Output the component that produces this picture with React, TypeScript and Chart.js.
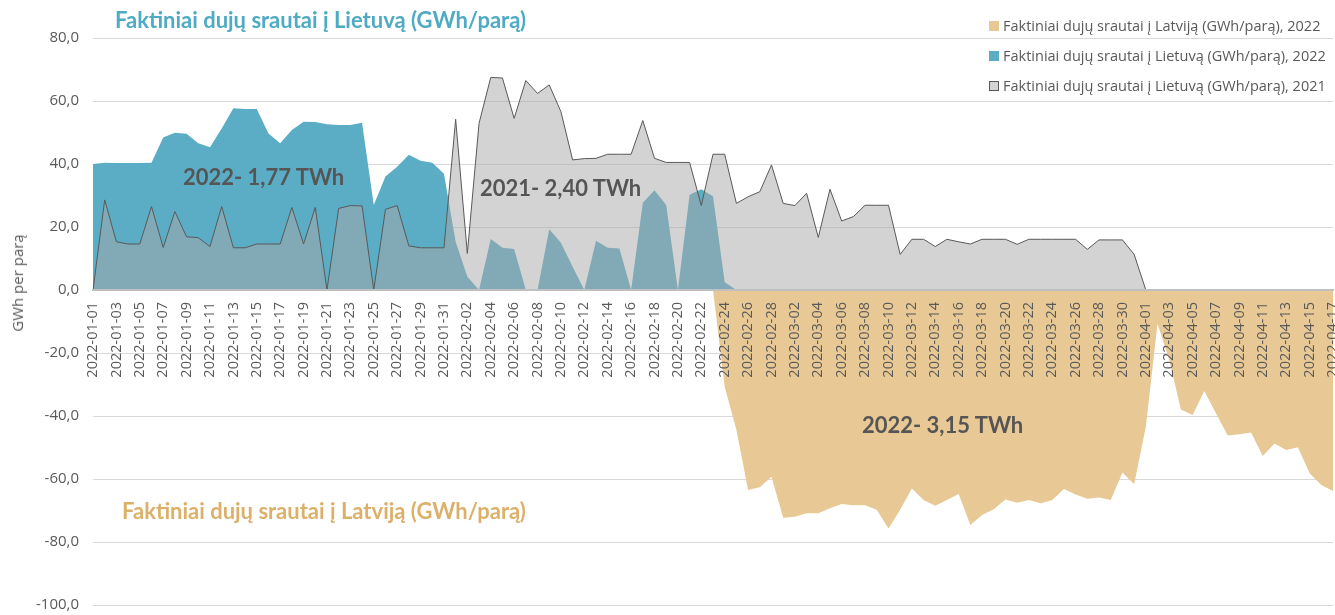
import React, { useEffect, useRef } from "react";
import { Chart, registerables } from "chart.js";

Chart.register(...registerables);

const dates: string[] = [
  "2022-01-01","2022-01-02","2022-01-03","2022-01-04","2022-01-05","2022-01-06","2022-01-07","2022-01-08","2022-01-09","2022-01-10",
  "2022-01-11","2022-01-12","2022-01-13","2022-01-14","2022-01-15","2022-01-16","2022-01-17","2022-01-18","2022-01-19","2022-01-20",
  "2022-01-21","2022-01-22","2022-01-23","2022-01-24","2022-01-25","2022-01-26","2022-01-27","2022-01-28","2022-01-29","2022-01-30",
  "2022-01-31","2022-02-01","2022-02-02","2022-02-03","2022-02-04","2022-02-05","2022-02-06","2022-02-07","2022-02-08","2022-02-09",
  "2022-02-10","2022-02-11","2022-02-12","2022-02-13","2022-02-14","2022-02-15","2022-02-16","2022-02-17","2022-02-18","2022-02-19",
  "2022-02-20","2022-02-21","2022-02-22","2022-02-23","2022-02-24","2022-02-25","2022-02-26","2022-02-27","2022-02-28","2022-03-01",
  "2022-03-02","2022-03-03","2022-03-04","2022-03-05","2022-03-06","2022-03-07","2022-03-08","2022-03-09","2022-03-10","2022-03-11",
  "2022-03-12","2022-03-13","2022-03-14","2022-03-15","2022-03-16","2022-03-17","2022-03-18","2022-03-19","2022-03-20","2022-03-21",
  "2022-03-22","2022-03-23","2022-03-24","2022-03-25","2022-03-26","2022-03-27","2022-03-28","2022-03-29","2022-03-30","2022-03-31",
  "2022-04-01","2022-04-02","2022-04-03","2022-04-04","2022-04-05","2022-04-06","2022-04-07","2022-04-08","2022-04-09","2022-04-10",
  "2022-04-11","2022-04-12","2022-04-13","2022-04-14","2022-04-15","2022-04-16","2022-04-17",
];

// Faktiniai dujų srautai į Lietuvą (GWh/parą), 2021
const lt2021: (number | null)[] = [
  0, 28.6, 15.3, 14.6, 14.6, 26.5, 13.5, 24.9, 16.9, 16.6,
  13.8, 26.5, 13.4, 13.4, 14.6, 14.6, 14.6, 26.2, 14.6, 26.2,
  0, 25.9, 26.8, 26.7, 0, 25.6, 26.8, 14.0, 13.4, 13.4,
  13.4, 54.2, 11.6, 52.9, 67.5, 67.3, 54.5, 66.5, 62.4, 65.1,
  56.6, 41.3, 41.7, 41.8, 43.1, 43.1, 43.1, 53.8, 41.8, 40.5,
  40.5, 40.5, 26.8, 43.1, 43.1, 27.5, 29.6, 31.2, 39.7, 27.5,
  26.8, 30.7, 16.7, 32.0, 21.9, 23.3, 26.9, 26.9, 26.9, 11.3,
  16.1, 16.1, 13.8, 16.1, 15.3, 14.6, 16.1, 16.1, 16.1, 14.5,
  16.1, 16.1, 16.1, 16.1, 16.1, 12.9, 15.9, 15.9, 15.9, 11.3,
  0, null, null, null, null, null, null, null, null, null,
  null, null, null, null, null, null, null,
];

// Faktiniai dujų srautai į Lietuvą (GWh/parą), 2022
const lt2022: (number | null)[] = [
  40.0, 40.4, 40.3, 40.3, 40.3, 40.4, 48.4, 49.9, 49.6, 46.6,
  45.3, 51.3, 57.7, 57.5, 57.5, 49.7, 46.6, 50.8, 53.4, 53.3,
  52.6, 52.4, 52.4, 53.1, 27.0, 36.0, 39.1, 42.9, 41.0, 40.4,
  36.9, 15.3, 4.2, 0, 16.2, 13.4, 13.0, 0, 0, 19.3,
  15.0, 7.4, 0, 15.6, 13.4, 13.2, 0, 27.7, 31.7, 27.0,
  0, 30.2, 32.0, 29.8, 2.5, 0, null, null, null, null,
  null, null, null, null, null, null, null, null, null, null,
  null, null, null, null, null, null, null, null, null, null,
  null, null, null, null, null, null, null, null, null, null,
  null, null, null, null, null, null, null, null, null, null,
  null, null, null, null, null, null, null,
];

// Faktiniai dujų srautai į Latviją (GWh/parą), 2022
const lv2022: (number | null)[] = [
  null, null, null, null, null, null, null, null, null, null,
  null, null, null, null, null, null, null, null, null, null,
  null, null, null, null, null, null, null, null, null, null,
  null, null, null, null, null, null, null, null, null, null,
  null, null, null, null, null, null, null, null, null, null,
  null, null, null, 0, -30.7, -44.4, -63.5, -62.6, -59.3, -72.3,
  -72.0, -70.9, -70.9, -69.3, -67.9, -68.3, -68.3, -69.8, -75.7, -69.8,
  -63.0, -66.7, -68.5, -66.7, -64.8, -74.6, -71.4, -69.6, -66.5, -67.5,
  -66.7, -67.7, -66.7, -63.2, -64.9, -66.3, -65.9, -66.7, -57.9, -61.7,
  -43.4, -10.6, -22.2, -37.9, -39.7, -32.1, -39.2, -46.2, -45.8, -45.2,
  -52.7, -48.7, -50.8, -49.9, -58.2, -61.9, -63.8,
];

const seriesNames = [
  "Faktiniai dujų srautai į Latviją (GWh/parą), 2022",
  "Faktiniai dujų srautai į Lietuvą (GWh/parą), 2022",
  "Faktiniai dujų srautai į Lietuvą (GWh/parą), 2021",
];

const TAN = "#E8C894";
const TEAL = "#5BADC5";
const GRAY_FILL = "rgba(167,167,167,0.5)";
const TEXT = "#595959";

export default function App() {
  const ref = useRef<HTMLCanvasElement | null>(null);

  useEffect(() => {
    document.body.style.margin = "0";
    if (!ref.current) return;
    const chart = new Chart(ref.current, {
      type: "line",
      data: {
        labels: dates,
        datasets: [
          {
            label: seriesNames[0],
            data: lv2022,
            backgroundColor: TAN,
            borderColor: TAN,
            borderWidth: 0,
            fill: "origin",
            pointRadius: 0,
            tension: 0,
            order: 3,
          },
          {
            label: seriesNames[1],
            data: lt2022,
            backgroundColor: TEAL,
            borderColor: TEAL,
            borderWidth: 0,
            fill: "origin",
            pointRadius: 0,
            tension: 0,
            order: 2,
          },
          {
            label: seriesNames[2],
            data: lt2021,
            backgroundColor: GRAY_FILL,
            borderColor: "#595959",
            borderWidth: 1,
            fill: "origin",
            pointRadius: 0,
            tension: 0,
            order: 1,
          },
        ],
      },
      options: {
        responsive: false,
        animation: false,
        devicePixelRatio: 1,
        layout: { padding: { top: 38, bottom: 10, left: 0, right: 2 } },
        plugins: {
          legend: { display: false },
          tooltip: { enabled: false },
        },
        scales: {
          x: {
            type: "category",
            position: { y: 0 } as any,
            offset: false,
            grid: { display: false, drawTicks: false },
            border: { display: true, color: "#BFBFBF", width: 2, z: 1 } as any,
            afterFit: (s: any) => {
              s.height = 0;
              s.paddingLeft = 0;
              s.paddingRight = 0;
              s.paddingTop = 0;
              s.paddingBottom = 0;
            },
            ticks: {
              z: 1,
              autoSkip: false,
              minRotation: 90,
              maxRotation: 90,
              padding: 12,
              color: TEXT,
              font: { family: "Open Sans", size: 14.5 },
              callback: (_v: any, i: number) => (i % 2 === 0 ? dates[i] : ""),
            },
          },
          y: {
            min: -100,
            max: 80,
            afterFit: (s: any) => {
              s.width = 93;
              s.paddingTop = 0;
              s.paddingBottom = 0;
            },
            grid: { color: "#D9D9D9", lineWidth: 1, drawTicks: false },
            border: { display: false },
            ticks: {
              stepSize: 20,
              padding: 14,
              color: TEXT,
              font: { family: "Open Sans", size: 15 },
              callback: (v: any) => Number(v).toFixed(1).replace(".", ","),
            },
          },
        },
      },
    });
    return () => chart.destroy();
  }, []);

  const annot: React.CSSProperties = {
    position: "absolute",
    fontFamily: "Lato, 'Open Sans', sans-serif",
    fontWeight: 700,
    fontSize: 22,
    color: "#555555",
    whiteSpace: "nowrap",
    lineHeight: 1,
  };
  const legendItem: React.CSSProperties = {
    position: "absolute",
    left: 989,
    fontFamily: "'Open Sans', sans-serif",
    fontSize: 14.5,
    color: TEXT,
    whiteSpace: "nowrap",
    display: "flex",
    alignItems: "center",
    lineHeight: 1,
  };
  const marker = (bg: string, border?: string): React.CSSProperties => ({
    width: border ? 8 : 10,
    height: border ? 8 : 10,
    background: bg,
    border: border ? `1px solid ${border}` : "none",
    marginRight: 4,
    display: "inline-block",
  });

  return (
    <div style={{ position: "relative", width: 1335, height: 615, overflow: "hidden", background: "#fff" }}>
      <canvas ref={ref} width={1335} height={615} style={{ position: "absolute", left: 0, top: 0 }} />
      <div style={{ ...annot, left: 115, top: 9, fontSize: 22, color: "#4FAAC4" }}>
        Faktiniai dujų srautai į Lietuvą (GWh/parą)
      </div>
      <div style={{ ...annot, left: 122, top: 500, fontSize: 22, color: "#DDB06A" }}>
        Faktiniai dujų srautai į Latviją (GWh/parą)
      </div>
      <div style={{ ...annot, left: 183, top: 166 }}>2022- 1,77 TWh</div>
      <div style={{ ...annot, left: 480, top: 177 }}>2021- 2,40 TWh</div>
      <div style={{ ...annot, left: 862, top: 414 }}>2022- 3,15 TWh</div>
      <div
        style={{
          position: "absolute",
          left: 17,
          top: 283,
          transform: "translate(-50%, -50%) rotate(-90deg)",
          fontFamily: "'Open Sans', sans-serif",
          fontSize: 15,
          color: TEXT,
          whiteSpace: "nowrap",
        }}
      >
        GWh per parą
      </div>
      <div style={{ ...legendItem, top: 19 }}>
        <span style={marker(TAN)} />
        {seriesNames[0]}
      </div>
      <div style={{ ...legendItem, top: 49 }}>
        <span style={marker(TEAL)} />
        {seriesNames[1]}
      </div>
      <div style={{ ...legendItem, top: 79 }}>
        <span style={marker("#D3D3D3", "#595959")} />
        {seriesNames[2]}
      </div>
    </div>
  );
}
